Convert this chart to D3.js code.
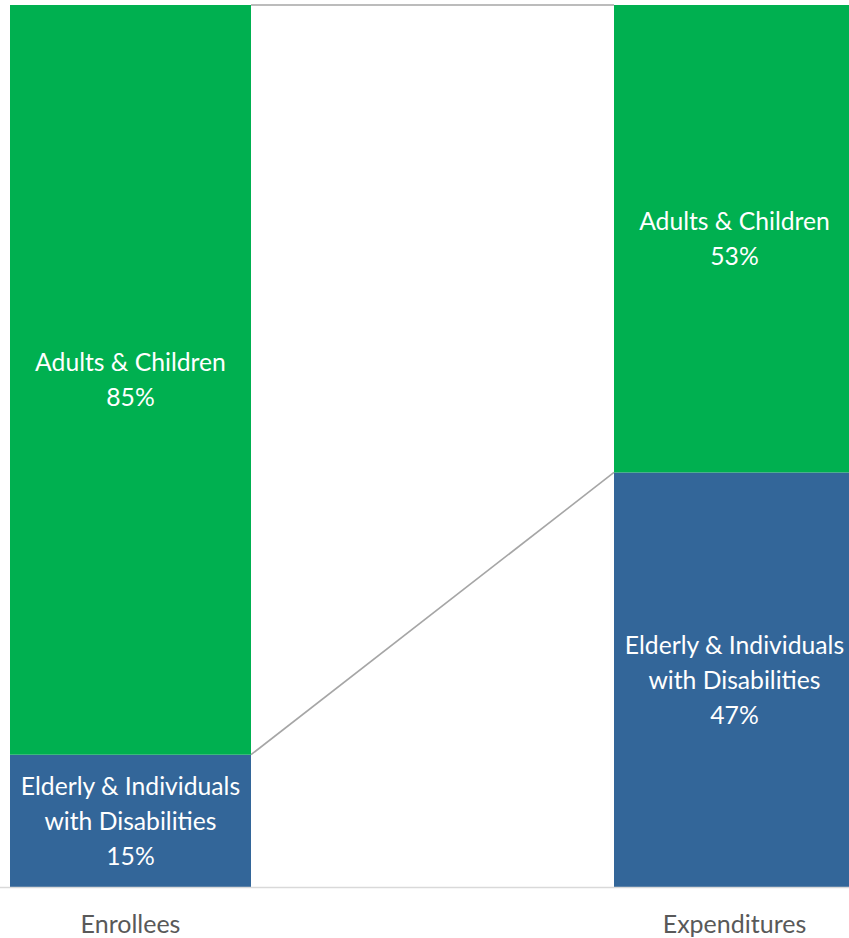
<!DOCTYPE html>
<html>
<head>
<meta charset="utf-8">
<script src="https://cdn.jsdelivr.net/npm/d3@7/dist/d3.min.js"></script>
<style>
html,body{margin:0;padding:0;background:#fff;overflow:hidden;}
svg{display:block;}
</style>
</head>
<body>
<svg id="chart" width="849" height="938"></svg>
<script>
const categories = ["Enrollees", "Expenditures"];
const seriesNames = ["Elderly & Individuals with Disabilities", "Adults & Children"];
const elderlyValues = [15, 47];
const adultsValues = [85, 53];
const seriesColors = ["#336699", "#00B050"];

const svg = d3.select("#chart");
const W = 849, H = 938;
const font = "Lato, 'Open Sans', sans-serif";

const x = d3.scaleBand().domain(categories).range([10, 855]).paddingInner(0.601).paddingOuter(0);
const y = d3.scaleLinear().domain([0, 100]).range([887, 5]);

const rows = categories.map((c, i) => ({cat: c, elderly: elderlyValues[i], adults: adultsValues[i]}));
const stack = d3.stack().keys(["elderly", "adults"]);
const stacked = stack(rows);

// series connector lines
stacked.forEach(s => {
  const a = s[0], b = s[1];
  svg.append("line")
    .attr("x1", x(categories[0]) + x.bandwidth()).attr("y1", y(a[1]))
    .attr("x2", x(categories[1])).attr("y2", y(b[1]))
    .attr("stroke", "#A6A6A6").attr("stroke-width", 1.6);
});

// bars
stacked.forEach((s, si) => {
  svg.append("g").selectAll("rect").data(s).join("rect")
    .attr("x", d => x(d.data.cat))
    .attr("y", d => y(d[1]))
    .attr("width", x.bandwidth())
    .attr("height", d => y(d[0]) - y(d[1]))
    .attr("fill", seriesColors[si]);
});

// axis baseline
const xAxis = d3.axisBottom(x).tickSize(0).tickPadding(28);
const ax = svg.append("g").attr("transform", `translate(0,${y(0)})`).call(xAxis);
ax.select(".domain").remove();
svg.append("line").attr("x1", 0).attr("x2", W).attr("y1", y(0) + 0.5).attr("y2", y(0) + 0.5)
  .attr("stroke", "#D9D9D9").attr("stroke-width", 1.6);
ax.selectAll("text").attr("font-family", font).attr("font-size", 25).attr("fill", "#595959");

// data labels
const labelLines = {
  elderly: ["Elderly & Individuals", "with Disabilities"],
  adults: ["Adults & Children"]
};
stacked.forEach(s => {
  s.forEach(d => {
    const v = d[1] - d[0];
    const lines = labelLines[s.key].concat([v + "%"]);
    const cx = x(d.data.cat) + x.bandwidth() / 2;
    const cy = (y(d[0]) + y(d[1])) / 2;
    const lh = 35;
    const t = svg.append("text")
      .attr("text-anchor", "middle")
      .attr("font-family", font).attr("font-size", 24.7)
      .attr("fill", "#FFFFFF");
    lines.forEach((ln, i) => {
      t.append("tspan").attr("x", cx)
        .attr("y", cy + (i - (lines.length - 1) / 2) * lh + 9)
        .text(ln);
    });
  });
});
</script>
</body>
</html>
